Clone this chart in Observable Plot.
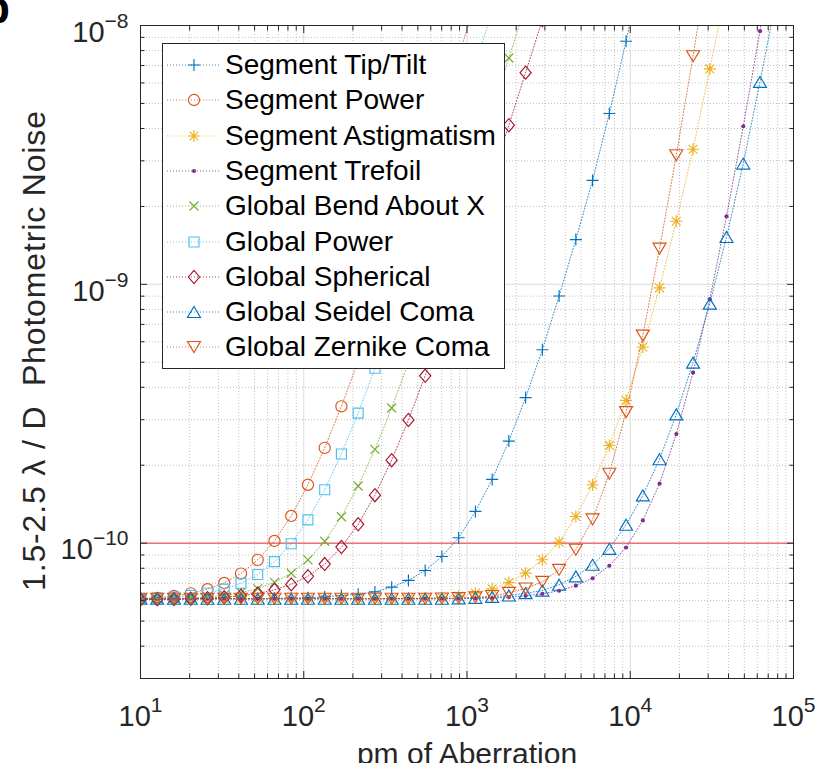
<!DOCTYPE html>
<html><head><meta charset="utf-8">
<script src="https://cdn.jsdelivr.net/npm/d3@7"></script>
<script src="https://cdn.jsdelivr.net/npm/@observablehq/plot@0.6"></script>
<style>
body{margin:0;background:#fff;}
#wrap{position:relative;width:829px;height:763px;overflow:hidden;font-family:"Liberation Sans",Arial,Helvetica,sans-serif;background:#fff;}
#panel{position:absolute;left:-17px;top:-14px;font-size:44px;font-weight:bold;line-height:44px;color:#000;}
#legend{position:absolute;left:162px;top:43px;width:343px;height:326px;box-sizing:border-box;border:1px solid #262626;background:#fff;}
.row{position:absolute;left:0;height:36px;width:340px;}
.row svg{position:absolute;left:4px;top:0;}
.row span{position:absolute;left:62px;top:0;line-height:36px;font-size:28px;color:#000;white-space:nowrap;}
</style></head><body><div id="wrap"><div id="panel">b</div></div><script>
// x: pm of aberration
const aberrationPm = [10, 12.66, 16.04, 20.31, 25.72, 32.57, 41.25, 52.24, 66.16, 83.8, 106.1, 134.4, 170.1, 215.4, 272.9, 345.6, 437.7, 554.3, 702, 888.8, 1126, 1426, 1805, 2286, 2895, 3665, 4642, 5878, 7444, 9427, 11938, 15117, 19145, 24245, 30703, 38883, 49239, 62355, 78965, 100000];

// y: photometric noise
const segmentTipTilt = [0.61e-10,0.61e-10,0.61e-10,0.61e-10,0.61e-10,0.61e-10,0.61e-10,0.61e-10,0.612e-10,0.613e-10,0.615e-10,0.62e-10,0.628e-10,0.635e-10,0.648e-10,0.676e-10,0.718e-10,0.784e-10,0.888e-10,1.049e-10,1.326e-10,1.763e-10,2.48e-10,3.65e-10,5.59e-10,9.01e-10,14.89e-10,25.2e-10,45.7e-10,86.9e-10,175e-10];
const segmentPower = [0.61e-10,0.615e-10,0.625e-10,0.64e-10,0.664e-10,0.702e-10,0.763e-10,0.862e-10,1.02e-10,1.274e-10,1.681e-10,2.334e-10,3.378e-10,5.05e-10,7.75e-10,12.07e-10,18.99e-10,30.1e-10,47.9e-10,76.4e-10,122.2e-10];
const segmentAstigmatism = [0.61e-10,0.61e-10,0.61e-10,0.61e-10,0.61e-10,0.61e-10,0.61e-10,0.61e-10,0.61e-10,0.61e-10,0.61e-10,0.61e-10,0.61e-10,0.61e-10,0.61e-10,0.611e-10,0.612e-10,0.614e-10,0.617e-10,0.624e-10,0.641e-10,0.666e-10,0.705e-10,0.766e-10,0.863e-10,1.009e-10,1.268e-10,1.682e-10,2.386e-10,3.562e-10,5.724e-10,9.694e-10,17.52e-10,33.25e-10,67.96e-10,140e-10];
const segmentTrefoil = [0.61e-10,0.61e-10,0.61e-10,0.61e-10,0.61e-10,0.61e-10,0.61e-10,0.61e-10,0.61e-10,0.61e-10,0.61e-10,0.61e-10,0.61e-10,0.61e-10,0.61e-10,0.61e-10,0.61e-10,0.61e-10,0.61e-10,0.61e-10,0.612e-10,0.614e-10,0.618e-10,0.626e-10,0.637e-10,0.655e-10,0.685e-10,0.732e-10,0.818e-10,0.962e-10,1.224e-10,1.698e-10,2.638e-10,4.558e-10,8.76e-10,18.32e-10,40.8e-10,95.1e-10,225e-10];
const globalBendAboutX = [0.607e-10,0.609e-10,0.611e-10,0.614e-10,0.62e-10,0.629e-10,0.644e-10,0.667e-10,0.705e-10,0.765e-10,0.862e-10,1.017e-10,1.265e-10,1.663e-10,2.303e-10,3.328e-10,4.973e-10,7.61e-10,11.84e-10,18.62e-10,29.5e-10,46.94e-10,74.9e-10,119.8e-10];
const globalPower = [0.611e-10,0.614e-10,0.619e-10,0.628e-10,0.642e-10,0.664e-10,0.699e-10,0.757e-10,0.848e-10,0.995e-10,1.23e-10,1.608e-10,2.211e-10,3.18e-10,4.738e-10,7.234e-10,11.24e-10,17.66e-10,27.96e-10,44.45e-10,70.9e-10,113.3e-10];
const globalSpherical = [0.606e-10,0.607e-10,0.608e-10,0.61e-10,0.613e-10,0.618e-10,0.626e-10,0.639e-10,0.66e-10,0.693e-10,0.745e-10,0.83e-10,0.966e-10,1.183e-10,1.533e-10,2.093e-10,2.992e-10,4.433e-10,6.745e-10,10.45e-10,16.39e-10,25.93e-10,41.2e-10,65.75e-10,105.1e-10];
const globalSeidelComa = [0.61e-10,0.61e-10,0.61e-10,0.61e-10,0.61e-10,0.61e-10,0.61e-10,0.61e-10,0.61e-10,0.61e-10,0.61e-10,0.61e-10,0.61e-10,0.61e-10,0.61e-10,0.61e-10,0.61e-10,0.61e-10,0.61e-10,0.612e-10,0.615e-10,0.62e-10,0.628e-10,0.641e-10,0.656e-10,0.691e-10,0.744e-10,0.825e-10,0.951e-10,1.178e-10,1.529e-10,2.11e-10,3.145e-10,4.982e-10,8.42e-10,15.24e-10,29.28e-10,60.53e-10,130e-10];
const globalZernikeComa = [0.61e-10,0.61e-10,0.61e-10,0.61e-10,0.61e-10,0.61e-10,0.61e-10,0.61e-10,0.61e-10,0.61e-10,0.61e-10,0.61e-10,0.61e-10,0.61e-10,0.61e-10,0.61e-10,0.61e-10,0.61e-10,0.611e-10,0.613e-10,0.617e-10,0.625e-10,0.643e-10,0.668e-10,0.709e-10,0.789e-10,0.943e-10,1.235e-10,1.855e-10,3.209e-10,6.335e-10,13.74e-10,31.52e-10,76.08e-10,190e-10];

const seriesNames = ["Segment Tip/Tilt","Segment Power","Segment Astigmatism","Segment Trefoil","Global Bend About X","Global Power","Global Spherical","Global Seidel Coma","Global Zernike Coma"];
const seriesValues = [segmentTipTilt, segmentPower, segmentAstigmatism, segmentTrefoil, globalBendAboutX, globalPower, globalSpherical, globalSeidelComa, globalZernikeComa];
const seriesColors = ["#0072BD","#D95319","#EDB120","#7E2F8E","#77AC30","#4DBEEE","#A2142F","#0072BD","#D95319"];
const seriesMarkers = ["plus","circle","asterisk","point","times","square","diamond","triangleUp","triangleDown"];

const xTickValues = [10, 100, 1000, 10000, 100000];
const xTickExponents = ["1","2","3","4","5"];
const yTickValues = [1e-10, 1e-9, 1e-8];
const yTickExponents = ["\u221210","\u22129","\u22128"];
const thresholdLevel = [1e-10];
const xDomain = [10, 100000];
const yDomain = [3e-11, 1e-8];
const xLabel = "pm of Aberration";
const yLabel = "1.5-2.5 \u03bb / D\u00a0\u00a0Photometric Noise";

// marker shapes
const symbols = {
  plus: {draw(c){const s=6;c.moveTo(-s,0);c.lineTo(s,0);c.moveTo(0,-s);c.lineTo(0,s);}},
  circle: {draw(c){const r=5.6;c.moveTo(r,0);c.arc(0,0,r,0,2*Math.PI);}},
  asterisk: {draw(c){const s=6,d=4.4;c.moveTo(-s,0);c.lineTo(s,0);c.moveTo(0,-s);c.lineTo(0,s);c.moveTo(-d,-d);c.lineTo(d,d);c.moveTo(-d,d);c.lineTo(d,-d);}},
  point: {draw(c){const r=2.1;c.moveTo(r,0);c.arc(0,0,r,0,2*Math.PI);}},
  times: {draw(c){const d=4.5;c.moveTo(-d,-d);c.lineTo(d,d);c.moveTo(-d,d);c.lineTo(d,-d);}},
  square: {draw(c){const s=5;c.moveTo(-s,-s);c.lineTo(s,-s);c.lineTo(s,s);c.lineTo(-s,s);c.closePath();}},
  diamond: {draw(c){const w=5.6,h=6.6;c.moveTo(0,-h);c.lineTo(w,0);c.lineTo(0,h);c.lineTo(-w,0);c.closePath();}},
  triangleUp: {draw(c){const w=6.5,h=5.5;c.moveTo(0,-h);c.lineTo(w,h);c.lineTo(-w,h);c.closePath();}},
  triangleDown: {draw(c){const w=6.5,h=5.5;c.moveTo(0,h);c.lineTo(w,-h);c.lineTo(-w,-h);c.closePath();}}
};

const isPow10 = v => Math.abs(Math.log10(v) - Math.round(Math.log10(v))) < 1e-9;
const xMinor = d3.scaleLog().domain(xDomain).ticks().filter(v => !isPow10(v));
const yMinor = d3.scaleLog().domain(yDomain).ticks().filter(v => !isPow10(v));

const seriesMarks = seriesValues.flatMap((vals, i) => {
  const rows = vals.map((v, k) => ({x: aberrationPm[k], y: v}));
  const filled = seriesMarkers[i] === "point";
  return [
    Plot.line(rows, {x: "x", y: "y", stroke: seriesColors[i], strokeWidth: 1, strokeDasharray: "1,2", strokeOpacity: 0.8, clip: true}),
    Plot.dot(rows, {x: "x", y: "y", symbol: symbols[seriesMarkers[i]], stroke: filled ? "none" : seriesColors[i], fill: filled ? seriesColors[i] : "none", strokeWidth: 1.15, clip: true})
  ];
});

const xFmt = d => "10|" + xTickExponents[xTickValues.indexOf(d)];
const yFmt = d => "10|" + yTickExponents[yTickValues.indexOf(d)];
const axisColor = "#262626";

const chart = Plot.plot({
  width: 829, height: 763,
  marginLeft: 140, marginRight: 36, marginTop: 25, marginBottom: 85,
  style: {fontFamily: "Liberation Sans, Arial, Helvetica, sans-serif", background: "white", overflow: "visible"},
  x: {type: "log", domain: xDomain},
  y: {type: "log", domain: yDomain},
  marks: [
    Plot.gridX(xMinor, {stroke: "#b4b4b4", strokeOpacity: 0.85, strokeDasharray: "1,2"}),
    Plot.gridY(yMinor, {stroke: "#b4b4b4", strokeOpacity: 0.85, strokeDasharray: "1,2"}),
    Plot.gridX(xTickValues, {stroke: "#dcdcdc", strokeOpacity: 1}),
    Plot.gridY(yTickValues, {stroke: "#dcdcdc", strokeOpacity: 1}),
    Plot.ruleY(thresholdLevel, {stroke: "#f07373", strokeWidth: 1.5}),
    ...seriesMarks,
    Plot.frame({stroke: axisColor}),
    Plot.axisX(xTickValues, {anchor: "bottom", tickSize: -7, fill: "none", stroke: axisColor, label: null}),
    Plot.axisX(xMinor, {anchor: "bottom", tickSize: -4.5, fill: "none", stroke: axisColor, label: null}),
    Plot.axisX(xTickValues, {anchor: "top", tickSize: -7, fill: "none", stroke: axisColor, label: null}),
    Plot.axisX(xMinor, {anchor: "top", tickSize: -4.5, fill: "none", stroke: axisColor, label: null}),
    Plot.axisY(yTickValues, {anchor: "left", tickSize: -7, fill: "none", stroke: axisColor, label: null}),
    Plot.axisY(yMinor, {anchor: "left", tickSize: -4.5, fill: "none", stroke: axisColor, label: null}),
    Plot.axisY(yTickValues, {anchor: "right", tickSize: -7, fill: "none", stroke: axisColor, label: null}),
    Plot.axisY(yMinor, {anchor: "right", tickSize: -4.5, fill: "none", stroke: axisColor, label: null}),
    Plot.axisX(xTickValues, {anchor: "bottom", tickSize: 0, tickPadding: 27, fontSize: 29, tickFormat: xFmt, fill: axisColor, label: null}),
    Plot.axisY(yTickValues, {anchor: "left", tickSize: 0, tickPadding: 12, fontSize: 29, dy: 7, tickFormat: yFmt, fill: axisColor, label: null}),
    Plot.text([xLabel], {text: d => d, frameAnchor: "bottom", dy: 76, fontSize: 30, textAnchor: "middle", lineAnchor: "middle", fill: axisColor}),
    Plot.text([yLabel], {text: d => d, frameAnchor: "left", rotate: -90, dx: -106, dy: -1, fontSize: 32, textAnchor: "middle", lineAnchor: "middle", fill: axisColor})
  ]
});

// superscript exponents
d3.select(chart).selectAll("text").each(function() {
  const t = this.textContent;
  if (t === yLabel) { d3.select(this).attr("textLength", 480).attr("lengthAdjust", "spacing"); return; }
  if (t.indexOf("|") < 0) return;
  const [base, exp] = t.split("|");
  const sel = d3.select(this);
  sel.text(null);
  sel.append("tspan").text(base);
  sel.append("tspan").attr("dy", -14).attr("font-size", 21).text(exp);
});

const wrap = document.getElementById("wrap");
wrap.insertBefore(chart, wrap.firstChild);

// legend
const legend = d3.select(wrap).append("div").attr("id", "legend");
seriesNames.forEach((name, i) => {
  const row = legend.append("div").attr("class", "row").style("top", (21 + 35.3 * i - 18) + "px");
  const svg = row.append("svg").attr("width", 56).attr("height", 36);
  svg.append("line").attr("x1", 0).attr("x2", 52).attr("y1", 18).attr("y2", 18)
    .attr("stroke", seriesColors[i]).attr("stroke-width", 1).attr("stroke-dasharray", "1,2").attr("stroke-opacity", 0.8);
  const p = d3.path();
  symbols[seriesMarkers[i]].draw(p, 0);
  const filled = seriesMarkers[i] === "point";
  svg.append("path").attr("d", p.toString()).attr("transform", "translate(27,18)")
    .attr("fill", filled ? seriesColors[i] : "none").attr("stroke", filled ? "none" : seriesColors[i]).attr("stroke-width", 1.15);
  row.append("span").text(name);
});
</script></body></html>
